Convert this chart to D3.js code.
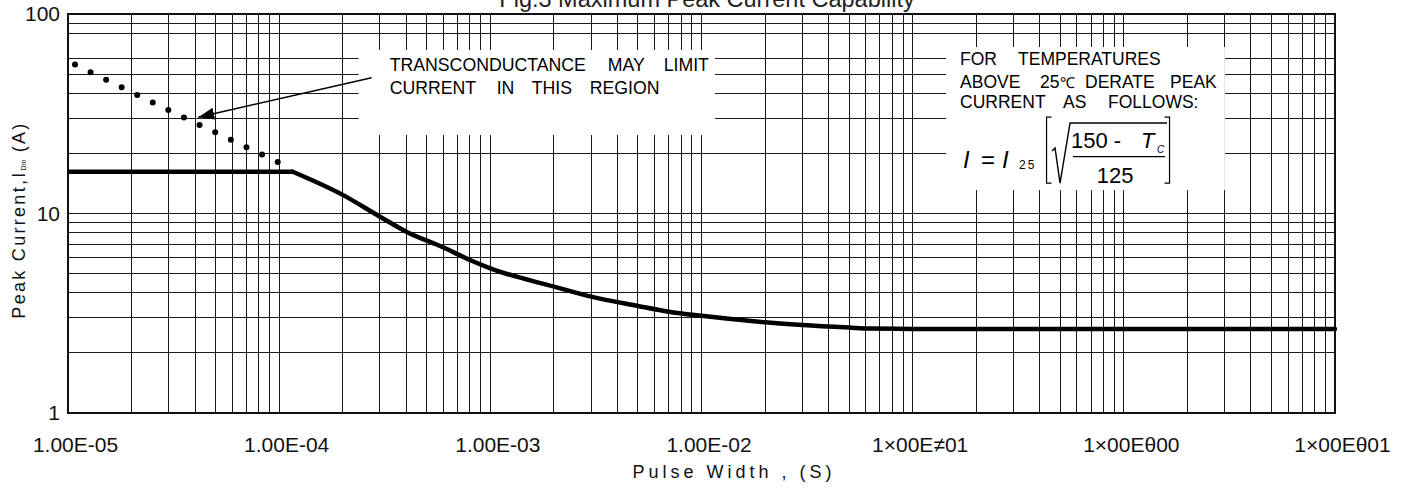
<!DOCTYPE html>
<html>
<head>
<meta charset="utf-8">
<script src="https://cdn.jsdelivr.net/npm/d3@7"></script>
<style>
  body { margin: 0; background: #fff; }
  svg { display: block; font-family: "Liberation Sans", Arial, sans-serif; }
</style>
</head>
<body>
<div id="chart"></div>
<script>
// x axis (pulse width, s)
const xTickValues = [1e-5, 1e-4, 1e-3, 1e-2, 1e-1, 1, 10];
const xTickLabels = ["1.00E-05", "1.00E-04", "1.00E-03", "1.00E-02", "1×00E≠01", "1×00Eθ00", "1×00Eθ01"];
const xMinorSteps = [2, 3, 4, 5, 6, 7, 8, 9];

// y axis (peak current, A)
const yTickValues = [1, 10, 100];
const yTickLabels = ["1", "10", "100"];
const yMinorGrid = [2, 3, 4, 5, 6, 7, 8, 9, 20, 30, 40, 50, 60, 80, 90];

// max peak current curve: flat part then the falling part
const flatWidth = [1e-5, 1.16e-4];
const flatCurrent = [16.2, 16.2];
const pulseWidth = [1.16e-4, 2.0e-4, 3.0e-4, 4.0e-4, 6.0e-4, 8.0e-4, 1e-3, 2e-3, 3e-3, 5e-3, 7e-3, 1e-2, 2e-2, 3e-2, 5e-2, 6.3e-2, 1e-1, 1, 10];
const peakCurrent = [16.2, 12.4, 9.64, 8.11, 6.75, 5.85, 5.31, 4.30, 3.83, 3.44, 3.22, 3.07, 2.85, 2.76, 2.68, 2.65, 2.64, 2.64, 2.64];

// transconductance limit (dotted)
const gmWidth = [1e-5, 3e-5, 1.02e-4];
const gmCurrent = [58, 32.9, 17.8];

// annotation boxes, in data units [t0, t1, I0, I1]
const noteBox1 = [2.38e-4, 1.16e-2, 66, 24.75];
const noteBox2 = [0.1439, 3.01, 68.3, 13.1];
const arrowFrom = [2.74e-4, 47.9];
const arrowTo = [4.14e-5, 30.4];

const W = 1410, H = 488;
const x = d3.scaleLog().domain([1e-5, 10]).range([68, 1335]);
const y = d3.scaleLog().domain([1, 100]).range([413, 14]);

const svg = d3.select("#chart").append("svg")
  .attr("width", W).attr("height", H);

// grid
const xGrid = [];
xTickValues.slice(0, -1).forEach(d => xMinorSteps.forEach(m => xGrid.push(d * m)));
xTickValues.slice(1, -1).forEach(d => xGrid.push(d));

const grid = svg.append("g")
  .attr("stroke", "#1a1a1a").attr("stroke-width", 1)
  .attr("shape-rendering", "crispEdges");
grid.selectAll(".vx").data(xGrid).join("line")
  .attr("x1", d => x(d)).attr("x2", d => x(d))
  .attr("y1", y(1)).attr("y2", y(100));
grid.selectAll(".hy").data(yMinorGrid.concat([10])).join("line")
  .attr("x1", x(1e-5)).attr("x2", x(10))
  .attr("y1", d => y(d)).attr("y2", d => y(d));

// white note boxes over grid
[noteBox1, noteBox2].forEach(b => {
  svg.append("rect")
    .attr("x", x(b[0])).attr("y", y(b[2]))
    .attr("width", x(b[1]) - x(b[0]))
    .attr("height", y(b[3]) - y(b[2]))
    .attr("fill", "#fff");
});

// frame
svg.append("rect")
  .attr("x", x(1e-5)).attr("y", y(100))
  .attr("width", x(10) - x(1e-5)).attr("height", y(1) - y(100))
  .attr("fill", "none").attr("stroke", "#111").attr("stroke-width", 2);

// axes
const xAxis = svg.append("g")
  .attr("transform", `translate(0,${y(1)})`)
  .call(d3.axisBottom(x).tickValues(xTickValues)
    .tickFormat((d, i) => xTickLabels[i]).tickSize(0));
xAxis.select(".domain").remove();
xAxis.selectAll("text")
  .attr("y", 39).attr("dy", 0).attr("dx", 7)
  .attr("fill", "#111").style("font-size", "21px")
  .style("font-family", "Liberation Sans, Arial, sans-serif");

const yAxis = svg.append("g")
  .attr("transform", `translate(${x(1e-5)},0)`)
  .call(d3.axisLeft(y).tickValues(yTickValues)
    .tickFormat((d, i) => yTickLabels[i]).tickSize(0).tickPadding(8));
yAxis.select(".domain").remove();
yAxis.selectAll("text")
  .attr("fill", "#111").style("font-size", "21px")
  .style("font-family", "Liberation Sans, Arial, sans-serif");

// curves
const line = d3.line().x(d => x(d[0])).y(d => y(d[1]));

svg.append("path")
  .datum(gmWidth.map((t, i) => [t, gmCurrent[i]]))
  .attr("d", line)
  .attr("fill", "none").attr("stroke", "#000")
  .attr("stroke-width", 6).attr("stroke-linecap", "round")
  .attr("stroke-dasharray", "0 17.3").attr("stroke-dashoffset", 9.5);

svg.append("path")
  .datum(flatWidth.map((t, i) => [t, flatCurrent[i]]))
  .attr("d", line)
  .attr("fill", "none").attr("stroke", "#000").attr("stroke-width", 4.5);

svg.append("path")
  .datum(pulseWidth.map((t, i) => [t, peakCurrent[i]]))
  .attr("d", line.curve(d3.curveMonotoneX))
  .attr("fill", "none").attr("stroke", "#000")
  .attr("stroke-width", 4.5).attr("stroke-linecap", "round");

// arrow
svg.append("defs").append("marker")
  .attr("id", "head").attr("markerUnits", "userSpaceOnUse")
  .attr("markerWidth", 17).attr("markerHeight", 12)
  .attr("refX", 16).attr("refY", 6).attr("orient", "auto")
  .append("path").attr("d", "M0,0L16,6L0,12Z").attr("fill", "#000");

svg.append("line")
  .attr("x1", x(arrowFrom[0])).attr("y1", y(arrowFrom[1]))
  .attr("x2", x(arrowTo[0])).attr("y2", y(arrowTo[1]))
  .attr("stroke", "#000").attr("stroke-width", 1.5)
  .attr("marker-end", "url(#head)");

// note texts: [dx from box left, dy from box top, word]
function words(g, bx, by, list) {
  list.forEach(w => g.append("text").attr("x", bx + w[0]).attr("y", by + w[1]).text(w[2]));
}

const b1x = x(noteBox1[0]), b1y = y(noteBox1[2]);
const note1 = svg.append("g").attr("fill", "#000").style("font-size", "17.7px");
words(note1, b1x, b1y, [
  [31, 21, "TRANSCONDUCTANCE"], [249, 21, "MAY"], [305, 21, "LIMIT"],
  [31, 44, "CURRENT"], [138, 44, "IN"], [173, 44, "THIS"], [231, 44, "REGION"]
]);

const b2x = x(noteBox2[0]), b2y = y(noteBox2[2]);
const note2 = svg.append("g").attr("fill", "#000").style("font-size", "17.5px");
words(note2, b2x, b2y, [
  [14, 18, "FOR"], [72, 18, "TEMPERATURES"],
  [14, 41, "ABOVE"], [139, 41, "DERATE"], [224, 41, "PEAK"],
  [14, 61, "CURRENT"], [117, 61, "AS"], [162, 61, "FOLLOWS:"]
]);
note2.append("text").attr("x", b2x + 94).attr("y", b2y + 41)
  .html('25<tspan style="font-size:15px">℃</tspan>');

// formula I = I25 [ sqrt((150 - Tc)/125) ]
const f = svg.append("g").attr("transform", `translate(${b2x},${b2y})`)
  .attr("fill", "#000").style("font-size", "22px");
f.append("text").attr("x", 17).attr("y", 121).style("font-size", "24px")
  .style("font-style", "italic").text("I");
f.append("text").attr("x", 35).attr("y", 121).style("font-size", "24px").text("=");
f.append("text").attr("x", 56).attr("y", 121).style("font-size", "24px")
  .style("font-style", "italic").text("I");
f.append("text").attr("x", 73).attr("y", 122).style("font-size", "12px")
  .style("letter-spacing", "2px").text("25");
const br = f.append("g").attr("fill", "none").attr("stroke", "#000").attr("stroke-width", 1.2);
br.append("path").attr("d", "M105.5,70H100.5V136H105.5");
br.append("path").attr("d", "M218.5,70H223.5V136H218.5");
br.append("path").attr("d", "M106,104L109,101L114,136L124,76H221")
  .attr("stroke-width", 1.4);
br.append("line").attr("x1", 127).attr("x2", 219).attr("y1", 109.5).attr("y2", 109.5);
f.append("text").attr("x", 125).attr("y", 101).text("150 -");
f.append("text").attr("x", 195).attr("y", 101).style("font-style", "italic").text("T");
f.append("text").attr("x", 211).attr("y", 106).style("font-size", "10px")
  .style("font-style", "italic").text("C");
f.append("text").attr("x", 169).attr("y", 136).attr("text-anchor", "middle").text("125");

// title (clipped at top, as in the source image)
svg.append("text")
  .attr("x", 707).attr("y", 7).attr("text-anchor", "middle")
  .style("font-size", "23.5px").attr("fill", "#222")
  .text("Fig.3  Maximum Peak Current Capability");

// axis titles
svg.append("text")
  .attr("x", 734).attr("y", 478).attr("text-anchor", "middle")
  .style("font-size", "18px").style("letter-spacing", "4px").attr("fill", "#111")
  .text("Pulse Width , (S)");

const yl = svg.append("text")
  .attr("transform", "translate(25,220) rotate(-90)")
  .attr("text-anchor", "middle")
  .style("font-size", "18px").style("letter-spacing", "2.3px").attr("fill", "#111");
yl.append("tspan").text("Peak Current,I");
yl.append("tspan").attr("dy", 1).style("font-size", "7px").style("letter-spacing", "0px").text("Dm");
yl.append("tspan").attr("dy", -1).text(" (A)");
</script>
</body>
</html>
